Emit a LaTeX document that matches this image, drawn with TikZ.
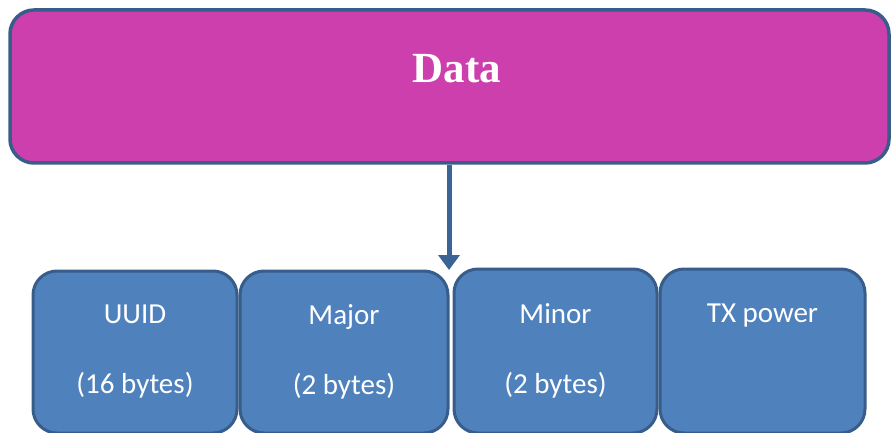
\documentclass[tikz,border=0pt]{standalone}
\usepackage{fontspec}
\setmainfont{Liberation Serif}
\newfontfamily\boxfont{Carlito}
\usetikzlibrary{arrows.meta}
\definecolor{magfill}{HTML}{CC3FAD}
\definecolor{bluefill}{HTML}{4F81BD}
\definecolor{edgeblue}{HTML}{385D8A}
\definecolor{arrowblue}{HTML}{3B6495}
\tikzset{
  databox/.style={draw=edgeblue, line width=3.5pt, fill=magfill, rounded corners=24pt,
    minimum width=879pt, minimum height=153pt, inner sep=0pt},
  fieldbox/.style={draw=edgeblue, line width=3pt, fill=bluefill, rounded corners=24pt,
    minimum height=162pt, inner sep=0pt, text=white, align=center,
    font=\boxfont\fontsize{29}{70}\selectfont},
  datalabel/.style={text=white, font=\fontsize{43}{48}\selectfont\bfseries, inner sep=0pt, anchor=base},
  mainarrow/.style={draw=arrowblue, line width=5pt, -{Triangle[width=21pt,length=15pt]}}
}
\begin{document}
\begin{tikzpicture}[x=1pt,y=-1pt]
\useasboundingbox (0,0) rectangle (892,433);
\node[databox] (data) at (449.5,86.5) {};
\node[datalabel] (dlabel) at (457,83) {Data};
\node[fieldbox, minimum width=204pt] (uuid) at (135,352) {UUID\\(16 bytes)};
\node[fieldbox, minimum width=208pt] (major) at (344,352) {Major\\(2 bytes)};
\node[fieldbox, minimum width=203pt, minimum height=164pt] (minor) at (555.5,351) {Minor\\(2 bytes)};
\node[fieldbox, minimum width=205pt, minimum height=164pt] (tx) at (762.5,351) {TX power\\\vphantom{(2 bytes)}};
\coordinate (tip) at (449,270);
\draw[mainarrow] (data.south -| tip) -- (tip);
\end{tikzpicture}
\end{document}
